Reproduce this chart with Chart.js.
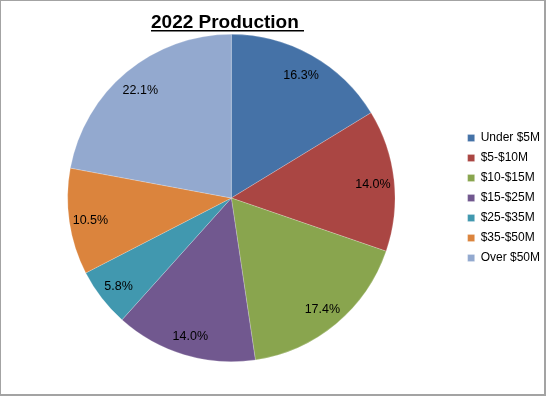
<!DOCTYPE html>
<html>
<head>
<meta charset="utf-8">
<script src="https://cdn.jsdelivr.net/npm/chart.js@4/dist/chart.umd.min.js"></script>
<style>
html,body{margin:0;padding:0;background:#fff;}
#wrap{position:relative;width:546px;height:396px;}
canvas{display:block;}
</style>
</head>
<body>
<div id="wrap"><canvas id="c" width="546" height="396"></canvas></div>
<script>
const titleText = "2022 Production ";
const categories = ["Under $5M", "$5-$10M", "$10-$15M", "$15-$25M", "$25-$35M", "$35-$50M", "Over $50M"];
const values = [16.3, 14.0, 17.4, 14.0, 5.8, 10.5, 22.1];
const dataLabels = ["16.3%", "14.0%", "17.4%", "14.0%", "5.8%", "10.5%", "22.1%"];
const colors = ["#4572A7", "#AA4643", "#89A54E", "#71588F", "#4198AF", "#DB843D", "#93A9CF"];

const decor = {
  id: 'decor',
  beforeDraw(chart) {
    const ctx = chart.ctx;
    ctx.save();
    ctx.fillStyle = '#fff';
    ctx.fillRect(0, 0, chart.width, chart.height);
    ctx.restore();
  },
  afterDraw(chart) {
    const ctx = chart.ctx;
    ctx.save();
    // slice labels
    const meta = chart.getDatasetMeta(0);
    ctx.font = '12.5px "Liberation Sans", Arial, sans-serif';
    ctx.fillStyle = '#000';
    ctx.textAlign = 'center';
    ctx.textBaseline = 'middle';
    meta.data.forEach((arc, i) => {
      const p = arc.getProps(['x', 'y', 'startAngle', 'endAngle', 'outerRadius'], true);
      const mid = (p.startAngle + p.endAngle) / 2;
      const r = p.outerRadius * 0.87;
      ctx.fillText(dataLabels[i], p.x + Math.cos(mid) * r, p.y + Math.sin(mid) * r + 2);
    });
    // title
    ctx.font = 'bold 19px "Liberation Sans", Arial, sans-serif';
    ctx.textAlign = 'left';
    ctx.textBaseline = 'alphabetic';
    const w = ctx.measureText(titleText).width;
    const cx = meta.data.length ? meta.data[0].x - 4 : 227;
    const x0 = Math.round(cx - w / 2);
    ctx.fillText(titleText, x0, 28);
    ctx.fillRect(x0, 30, Math.round(w), 1.5);
    // outer border
    ctx.fillStyle = '#a3a3a3';
    ctx.fillRect(0, 0, chart.width, 1);
    ctx.fillRect(0, 0, 1, chart.height);
    ctx.fillRect(chart.width - 2, 0, 2, chart.height);
    ctx.fillRect(0, chart.height - 2, chart.width, 2);
    ctx.restore();
  }
};

new Chart(document.getElementById('c'), {
  type: 'pie',
  data: {
    labels: categories,
    datasets: [{
      data: values,
      backgroundColor: colors,
      borderColor: 'rgba(255,255,255,0.35)',
      borderWidth: 0.6
    }]
  },
  options: {
    responsive: false,
    animation: false,
    events: [],
    layout: { padding: { top: 34, bottom: 34, left: 3, right: -4 } },
    plugins: {
      title: { display: false },
      tooltip: { enabled: false },
      legend: {
        position: 'right',
        align: 'center',
        labels: {
          boxWidth: 7,
          boxHeight: 7,
          padding: 8,
          color: '#000',
          font: { family: '"Liberation Sans", Arial, sans-serif', size: 12 }
        }
      }
    }
  },
  plugins: [decor]
});
</script>
</body>
</html>
